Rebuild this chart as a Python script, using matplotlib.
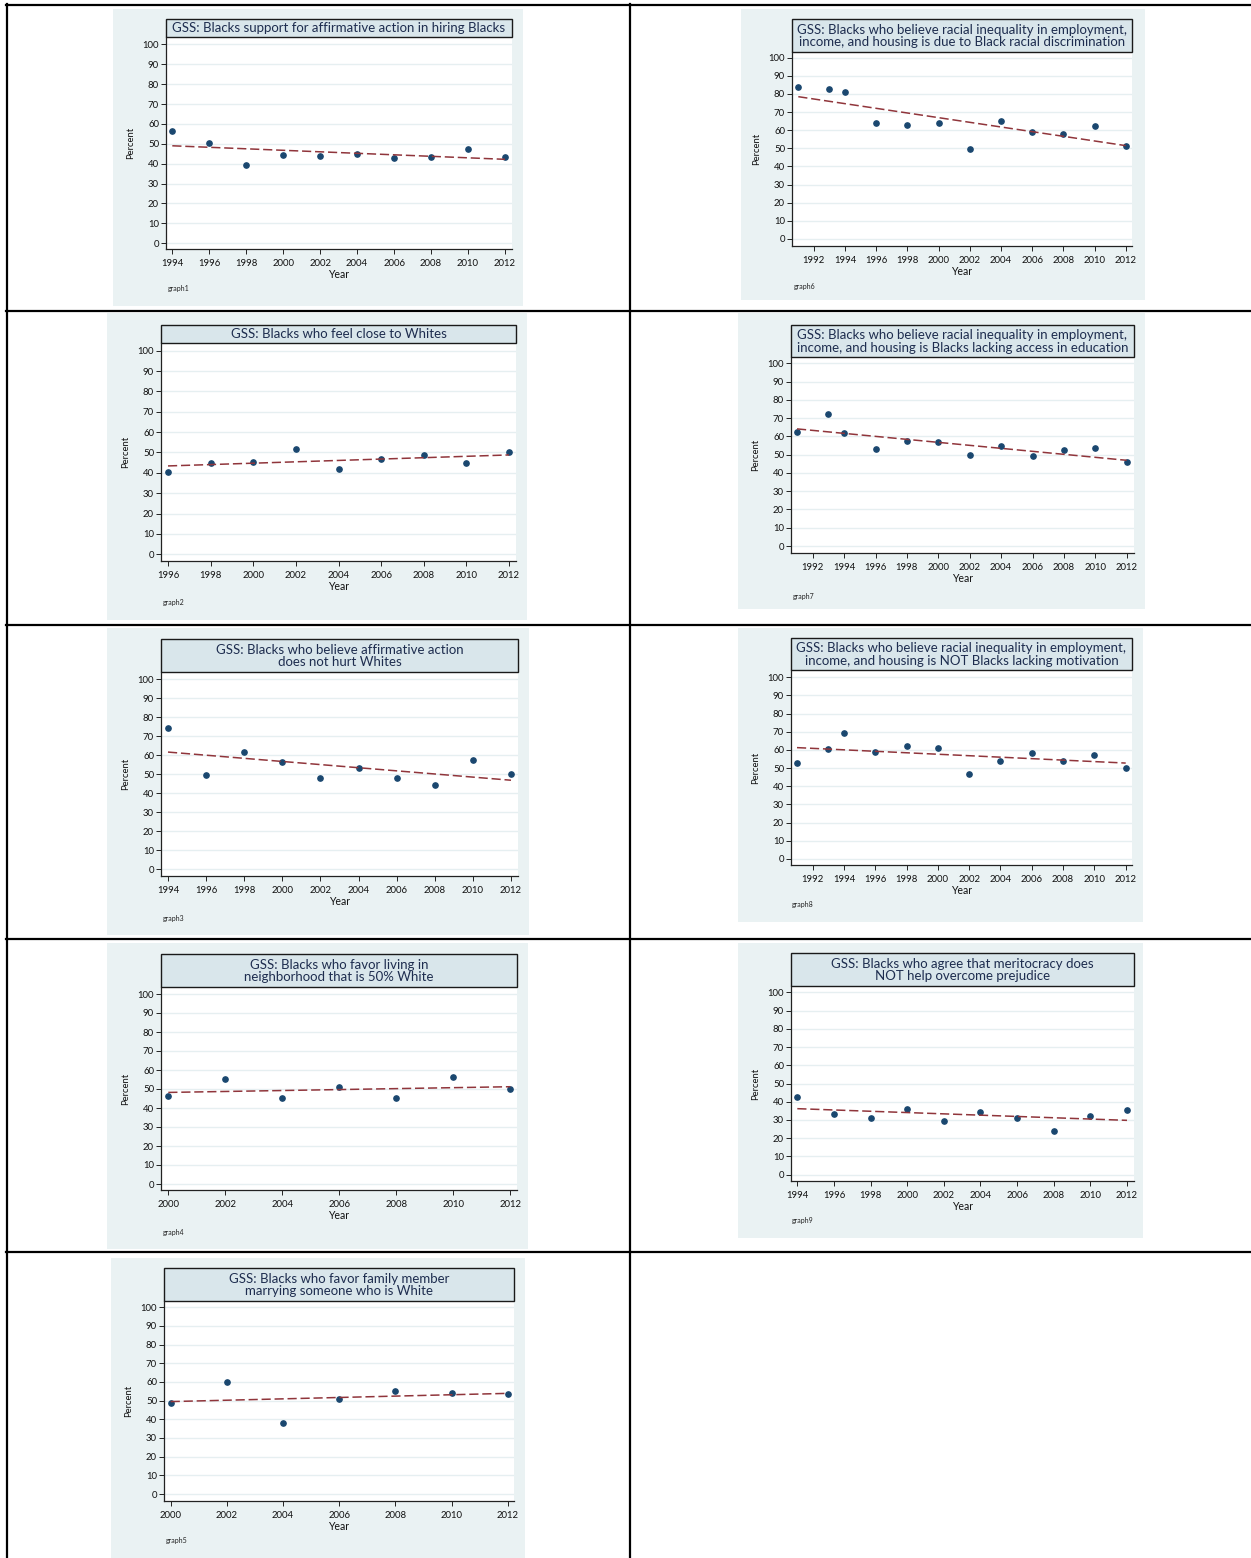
import numpy as np
import matplotlib
matplotlib.use("Agg")
import matplotlib.pyplot as plt
from matplotlib.patches import Rectangle
from matplotlib.lines import Line2D

W, H = 1251, 1558
FONT = "Lato"

BG = "#eaf2f3"
TITLE_FILL = "#d9e6eb"
TITLE_INK = "#1e2d4f"
GRID = "#e6eff1"
MARKER = "#1a476f"
FIT = "#90353b"

# --- series (percent of Black respondents, GSS) ---
years_g1 = [1994, 1996, 1998, 2000, 2002, 2004, 2006, 2008, 2010, 2012]
pct_g1 = [56.6, 50.3, 39.5, 44.2, 43.7, 45.1, 43.0, 43.2, 47.2, 43.6]
fit_g1 = [49.0, 42.2]

years_g2 = [1996, 1998, 2000, 2002, 2004, 2006, 2008, 2010, 2012]
pct_g2 = [40.3, 45.0, 45.2, 51.7, 41.9, 46.6, 48.6, 44.8, 50.1]
fit_g2 = [43.4, 48.8]

years_g3 = [1994, 1996, 1998, 2000, 2002, 2004, 2006, 2008, 2010, 2012]
pct_g3 = [74.3, 49.7, 61.6, 56.4, 48.0, 53.2, 47.8, 44.5, 57.4, 49.9]
fit_g3 = [61.6, 46.8]

years_g4 = [2000, 2002, 2004, 2006, 2008, 2010, 2012]
pct_g4 = [46.1, 55.1, 45.3, 51.1, 45.1, 56.1, 49.8]
fit_g4 = [48.2, 51.2]

years_g5 = [2000, 2002, 2004, 2006, 2008, 2010, 2012]
pct_g5 = [48.9, 59.8, 37.9, 51.1, 55.4, 53.9, 53.8]
fit_g5 = [49.5, 53.9]

years_g6 = [1991, 1993, 1994, 1996, 1998, 2000, 2002, 2004, 2006, 2008, 2010, 2012]
pct_g6 = [83.6, 82.5, 80.9, 64.2, 62.7, 64.2, 49.8, 65.1, 59.2, 58.1, 62.3, 51.1]
fit_g6 = [78.5, 51.5]

years_g7 = [1991, 1993, 1994, 1996, 1998, 2000, 2002, 2004, 2006, 2008, 2010, 2012]
pct_g7 = [62.2, 72.1, 61.7, 53.3, 57.3, 56.8, 49.8, 54.7, 49.3, 52.6, 53.8, 45.8]
fit_g7 = [64.1, 46.9]

years_g8 = [1991, 1993, 1994, 1996, 1998, 2000, 2002, 2004, 2006, 2008, 2010, 2012]
pct_g8 = [53.0, 60.6, 69.5, 59.1, 62.2, 61.1, 47.0, 53.8, 58.2, 53.8, 57.4, 50.1]
fit_g8 = [61.3, 52.8]

years_g9 = [1994, 1996, 1998, 2000, 2002, 2004, 2006, 2008, 2010, 2012]
pct_g9 = [42.4, 33.5, 31.3, 36.2, 29.6, 34.6, 30.9, 24.1, 32.0, 35.3]
fit_g9 = [36.2, 29.8]

ticks_94 = list(range(1994, 2013, 2))
ticks_96 = list(range(1996, 2013, 2))
ticks_92 = list(range(1992, 2013, 2))
ticks_00 = list(range(2000, 2013, 2))
yticks = list(range(0, 101, 10))

titles = {
    "graph1": "GSS: Blacks support for affirmative action in hiring Blacks",
    "graph2": "GSS: Blacks who feel close to Whites",
    "graph3": "GSS: Blacks who believe affirmative action\ndoes not hurt Whites",
    "graph4": "GSS: Blacks who favor living in\nneighborhood that is 50% White",
    "graph5": "GSS: Blacks who favor family member\nmarrying someone who is White",
    "graph6": "GSS: Blacks who believe racial inequality in employment,\n"
              "income, and housing is due to Black racial discrimination",
    "graph7": "GSS: Blacks who believe racial inequality in employment,\n"
              "income, and housing is Blacks lacking access in education",
    "graph8": "GSS: Blacks who believe racial inequality in employment,\n"
              "income, and housing is NOT Blacks lacking motivation",
    "graph9": "GSS: Blacks who agree that meritocracy does\nNOT help overcome prejudice",
}

# pixel layout of each pasted graph:
# bg box, title box, plot bottom, y px of 100 and 0, x px of first/last year, note xy
layout = {
    "graph1": dict(bg=(113, 9, 523, 306), tbox=(166, 19, 512, 37), bottom=249,
                   y100=44.3, y0=243.3, xa=172.3, xb=505.0, note=(168, 289)),
    "graph6": dict(bg=(741, 9, 1145, 300), tbox=(792, 19, 1132, 52), bottom=245.7,
                   y100=57.7, y0=239.0, xa=798.3, xb=1125.7, note=(794, 286)),
    "graph2": dict(bg=(107, 313, 527, 620), tbox=(161, 325, 516, 343), bottom=561,
                   y100=350.7, y0=554.3, xa=168.0, xb=509.0, note=(163, 603)),
    "graph7": dict(bg=(738, 313, 1145, 609), tbox=(791, 325, 1134, 357), bottom=553,
                   y100=363.3, y0=546.0, xa=797.0, xb=1126.7, note=(793, 596)),
    "graph3": dict(bg=(107, 628, 529, 935), tbox=(161, 639, 518, 672), bottom=876,
                   y100=679.0, y0=869.3, xa=168.0, xb=511.0, note=(163, 918)),
    "graph8": dict(bg=(738, 628, 1143, 922), tbox=(791, 638, 1132, 670), bottom=865,
                   y100=677.3, y0=859.0, xa=797.0, xb=1125.7, note=(792, 905)),
    "graph4": dict(bg=(107, 943, 528, 1249), tbox=(161, 954, 517, 987), bottom=1190,
                   y100=994.0, y0=1184.0, xa=168.3, xb=510.3, note=(163, 1232)),
    "graph9": dict(bg=(738, 943, 1143, 1238), tbox=(791, 953, 1134, 986), bottom=1181,
                   y100=992.3, y0=1174.7, xa=797.3, xb=1127.0, note=(792, 1221)),
    "graph5": dict(bg=(111, 1258, 525, 1558), tbox=(164, 1268, 514, 1301), bottom=1501,
                   y100=1307.3, y0=1494.0, xa=170.7, xb=507.7, note=(166, 1541)),
}

series = {
    "graph1": (years_g1, pct_g1, fit_g1, ticks_94),
    "graph2": (years_g2, pct_g2, fit_g2, ticks_96),
    "graph3": (years_g3, pct_g3, fit_g3, ticks_94),
    "graph4": (years_g4, pct_g4, fit_g4, ticks_00),
    "graph5": (years_g5, pct_g5, fit_g5, ticks_00),
    "graph6": (years_g6, pct_g6, fit_g6, ticks_92),
    "graph7": (years_g7, pct_g7, fit_g7, ticks_92),
    "graph8": (years_g8, pct_g8, fit_g8, ticks_92),
    "graph9": (years_g9, pct_g9, fit_g9, ticks_94),
}


def fx(px):
    return px / W


def fy(py):
    return 1 - py / H


def draw_panel(fig, name):
    L = layout[name]
    years, pct, fit, xticks = series[name]

    bx0, by0, bx1, by1 = L["bg"]
    fig.add_artist(Rectangle((fx(bx0), fy(by1)), fx(bx1 - bx0), (by1 - by0) / H,
                             transform=fig.transFigure, facecolor=BG, edgecolor="none", zorder=0))

    tx0, ty0, tx1, ty1 = L["tbox"]
    fig.add_artist(Rectangle((fx(tx0), fy(ty1)), fx(tx1 - tx0), (ty1 - ty0) / H,
                             transform=fig.transFigure, facecolor=TITLE_FILL,
                             edgecolor="#1a1a1a", lw=1.0, zorder=3))
    fig.text(fx((tx0 + tx1) / 2), fy((ty0 + ty1) / 2 + 0.5), titles[name], ha="center", va="center",
             fontsize=9.5, color=TITLE_INK, family=FONT, linespacing=1.05, zorder=4)

    left, right, top, bottom = tx0, tx1, ty1, L["bottom"]
    ax = fig.add_axes([fx(left), fy(bottom), fx(right - left), (bottom - top) / H])
    ax.set_facecolor("white")

    # map pixel positions of the reference ticks onto data limits
    upp = 100.0 / (L["y0"] - L["y100"])
    ax.set_ylim(-(bottom - L["y0"]) * upp, 100 + (L["y100"] - top) * upp)
    ppy = (L["xb"] - L["xa"]) / (years[-1] - years[0])
    ax.set_xlim(years[0] - (L["xa"] - left) / ppy, years[-1] + (right - L["xb"]) / ppy)

    for s in ("top", "right"):
        ax.spines[s].set_visible(False)
    for s in ("left", "bottom"):
        ax.spines[s].set_color("#222222")
        ax.spines[s].set_linewidth(0.9)

    ax.set_yticks(yticks)
    ax.set_xticks(xticks)
    ax.tick_params(axis="both", labelsize=6.9, length=3.5, width=0.7, color="#222222",
                   labelcolor="#111111")
    ax.tick_params(axis="x", pad=4)
    ax.tick_params(axis="y", pad=1.5)
    for lab in ax.get_xticklabels() + ax.get_yticklabels():
        lab.set_family(FONT)
    ax.grid(axis="y", color=GRID, lw=1.0)
    ax.set_axisbelow(True)

    ax.plot(years, pct, "o", color=MARKER, ms=3.8, mec=MARKER, zorder=3, clip_on=False)
    ax.plot([years[0], years[-1]], fit, color=FIT, lw=1.1, ls=(0, (6, 2.5)), zorder=4)

    ax.set_ylabel("Percent", fontsize=6.8, family=FONT, color="#111111", labelpad=5)
    ax.set_xlabel("Year", fontsize=7.6, family=FONT, color="#111111", labelpad=0.5)

    nx, ny = L["note"]
    fig.text(fx(nx), fy(ny), name, fontsize=5.0, family=FONT, color="#222222",
             ha="left", va="center")


def main():
    fig = plt.figure(figsize=(W / 100, H / 100), dpi=100)
    fig.patch.set_facecolor("white")

    # table rules around the pasted graphs
    rule = dict(color="black", lw=1.6, transform=fig.transFigure, zorder=5)
    fig.add_artist(Line2D([fx(5.5), 1], [fy(5), fy(5)], **rule))
    fig.add_artist(Line2D([fx(6.5), fx(6.5)], [fy(4), 0], **rule))
    fig.add_artist(Line2D([fx(630), fx(630)], [fy(4), 0], **rule))
    for yy in (311, 625, 938.5, 1252):
        fig.add_artist(Line2D([fx(5.5), 1], [fy(yy), fy(yy)], **rule))

    for name in layout:
        draw_panel(fig, name)

    fig.savefig("out.png", dpi=100)


if __name__ == "__main__":
    main()
